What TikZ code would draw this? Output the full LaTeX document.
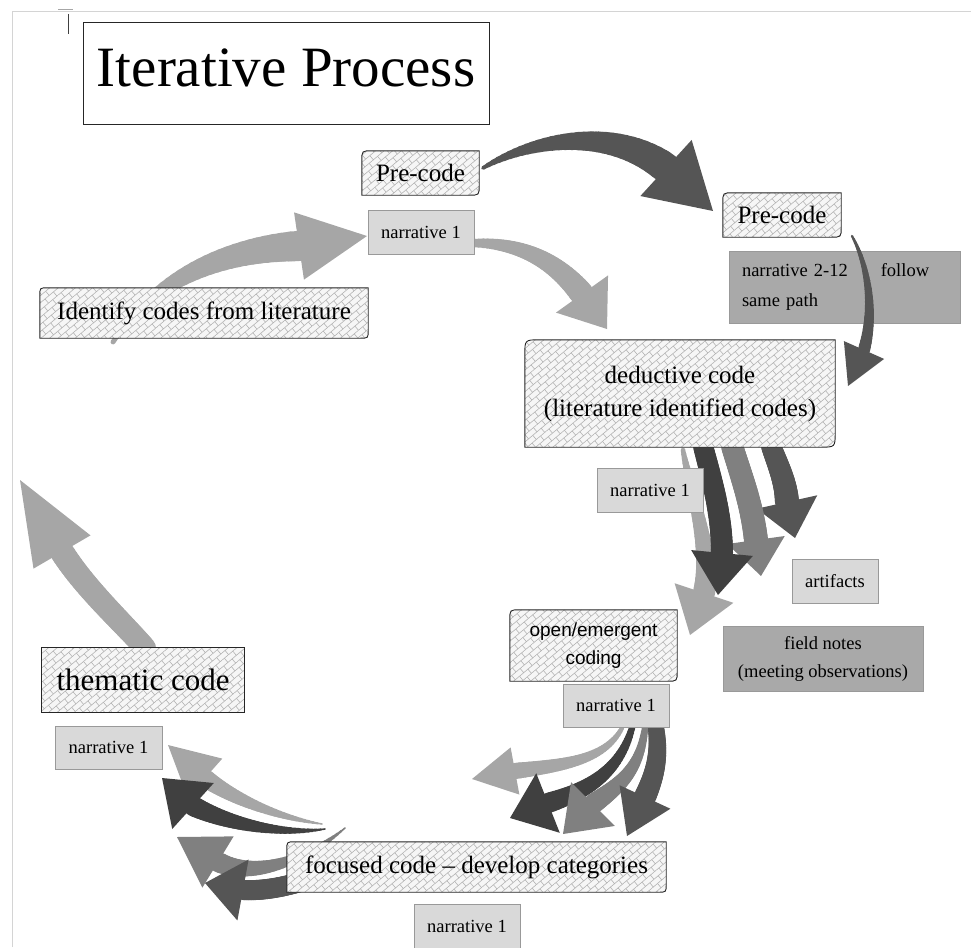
\documentclass[tikz,border=0pt]{standalone}
\usepackage{fontspec}
\setmainfont{Liberation Serif}
\newfontfamily\labelsans{Liberation Sans}
\usetikzlibrary{calc,patterns.meta}

% diagonal brick fill used inside the coding-stage boxes
\tikzdeclarepattern{
  name=diagbrick,
  type=uncolored,
  bounding box={(-0.5pt,-0.5pt) and (11.5pt,11.5pt)},
  tile size={(11pt,11pt)},
  tile transformation={rotate=40},
  code={
    \draw[line width=0.6pt]
      (0pt,0pt) -- (11pt,0pt)
      (0pt,5.5pt) -- (11pt,5.5pt)
      (0pt,0pt) -- (0pt,5.5pt)
      (5.5pt,5.5pt) -- (5.5pt,11pt);
  }
}

\definecolor{arrdark}{HTML}{555555}
\definecolor{arrdeep}{HTML}{404040}
\definecolor{arrmid}{HTML}{808080}
\definecolor{arrlight}{HTML}{A6A6A6}
\definecolor{notefill}{HTML}{D9D9D9}
\definecolor{notedark}{HTML}{A9A9A9}
\definecolor{noteedge}{HTML}{999999}
\definecolor{pageedge}{HTML}{D4D4D4}
\definecolor{brickline}{HTML}{B4B4B4}
\definecolor{brickbase}{HTML}{F6F6F6}

\pgfdeclarelayer{arrowlayer}
\pgfdeclarelayer{boxlayer}
\pgfsetlayers{arrowlayer,boxlayer,main}

\tikzset{
  hatchfill/.style={preaction={fill=brickbase}, pattern=diagbrick,
    pattern color=brickline, draw=black!85, line width=0.9pt},
  note/.style={draw=noteedge, fill=notefill, line width=1pt, inner sep=0pt,
    font=\fontsize{18.5}{28}\selectfont},
  stage/.style={inner sep=0pt, font=\fontsize{25}{33}\selectfont},
}

% box with rounded top-left and bottom-right corners behind node #2
\newcommand\hatchbox[2][9pt]{%
  \begin{pgfonlayer}{boxlayer}
    \path[hatchfill] let \p1=(#2.south west), \p2=(#2.north east) in
      (\x1,\y1) -- (\x1,{\y2-#1}) .. controls (\x1,\y2) .. ({\x1+#1},\y2)
      -- (\x2,\y2) -- (\x2,{\y1+#1}) .. controls (\x2,\y1) .. ({\x2-#1},\y1)
      -- cycle;
  \end{pgfonlayer}}

% curved block arrow: colour, tail, control 1, control 2, head base, tip,
% tail width, base width, half head width
\newcommand\taparrow[9]{%
  \foreach \k in {1,...,30}{%
    \pgfmathsetmacro\bzs{(\k-1)/30}%
    \pgfmathsetmacro\bzt{\k/30}%
    \pgfmathsetmacro\bzw{#7+(#8-#7)*\bzt}%
    \pgfmathsetmacro\bzpa{(1-\bzs)*(1-\bzs)*(1-\bzs)}%
    \pgfmathsetmacro\bzpb{3*(1-\bzs)*(1-\bzs)*\bzs}%
    \pgfmathsetmacro\bzpc{3*(1-\bzs)*\bzs*\bzs}%
    \pgfmathsetmacro\bzpd{\bzs*\bzs*\bzs}%
    \pgfmathsetmacro\bzqa{(1-\bzt)*(1-\bzt)*(1-\bzt)}%
    \pgfmathsetmacro\bzqb{3*(1-\bzt)*(1-\bzt)*\bzt}%
    \pgfmathsetmacro\bzqc{3*(1-\bzt)*\bzt*\bzt}%
    \pgfmathsetmacro\bzqd{\bzt*\bzt*\bzt}%
    \draw[#1,line width=\bzw pt,line cap=round]
      ($\bzpa*(#2)+\bzpb*(#3)+\bzpc*(#4)+\bzpd*(#5)$) --
      ($\bzqa*(#2)+\bzqb*(#3)+\bzqc*(#4)+\bzqd*(#5)$);
  }%
  \fill[#1] (#6) -- ($(#5)!#9pt!90:(#6)$) -- ($(#5)!#9pt!-90:(#6)$) -- cycle;
}

\begin{document}
\begin{tikzpicture}[x=1pt,y=-1pt]
\useasboundingbox (0,0) rectangle (971,947);

% page edge and cursor
\draw[pageedge,line width=1pt] (12,947) -- (12,12) -- (971,12);
\draw[black!35,line width=1pt] (58,10) -- (73,10);
\draw[black!75,line width=1pt] (68,14) -- (68,34);

% title
\node[draw=black!85,line width=1pt,minimum width=406pt,minimum height=102pt,inner sep=0pt] (titleframe) at (286,74) {};
\node[anchor=base,inner sep=0pt,font=\fontsize{57}{60}\selectfont] (title) at (286,87) {Iterative Process};

% coding stages
\node[stage,minimum width=117pt,minimum height=44pt] (pre1) at (420.5,173) {Pre-code};
\node[stage,minimum width=328pt,minimum height=50pt] (ident) at (204,313) {Identify codes from literature};
\node[stage,minimum width=118pt,minimum height=44pt] (pre2) at (782,215) {Pre-code};
\node[stage,minimum width=310pt,minimum height=107pt,align=center] (deduct) at (680,393.5) {deductive code\\(literature identified codes)};
\node[stage,minimum width=167pt,minimum height=71pt,align=center,font=\labelsans\fontsize{19}{28}\selectfont] (open) at (593.5,645.5) {open/emergent\\coding};
\node[stage,minimum width=202pt,minimum height=64pt,font=\fontsize{31}{34}\selectfont] (thematic) at (143,680) {thematic code};
\node[stage,minimum width=379pt,minimum height=50pt] (focused) at (476.5,867) {focused code \textendash{} develop categories};

\hatchbox[10pt]{pre1}
\hatchbox[8pt]{ident}
\hatchbox[10pt]{pre2}
\hatchbox[15pt]{deduct}
\hatchbox[10pt]{open}
\hatchbox[8pt]{focused}
\begin{pgfonlayer}{boxlayer}
  \path[hatchfill] (thematic.south west) rectangle (thematic.north east);
\end{pgfonlayer}

% narrative notes
\node[note,minimum width=106pt,minimum height=44pt] (nar1) at (421,232) {narrative 1};
\node[note,fill=notedark,minimum height=72pt,align=left,text width=205pt,inner xsep=13pt,font=\fontsize{18.5}{30}\selectfont] (nar212) at (844.5,287) {narrative 2-12\hspace{33pt}follow\\same path};
\node[note,minimum width=106pt,minimum height=44pt] (nar2) at (650,490) {narrative 1};
\node[note,minimum width=86pt,minimum height=44pt] (artif) at (835,581) {artifacts};
\node[note,fill=notedark,minimum width=200pt,minimum height=65pt,align=center] (field) at (823,658.5) {field notes\\(meeting observations)};
\node[note,minimum width=106pt,minimum height=43pt] (nar3) at (616,705.5) {narrative 1};
\node[note,minimum width=107pt,minimum height=43pt] (nar4) at (108.5,747.5) {narrative 1};
\node[note,minimum width=106pt,minimum height=44pt] (nar5) at (467,926) {narrative 1};

% flow arrows
\begin{pgfonlayer}{arrowlayer}
  % literature -> pre-code
  \taparrow{arrlight}{113,342}{150,285}{215,250}{299,246}{367,236}{4}{30}{34}
  % pre-code -> pre-code
  \taparrow{arrdark}{483,168}{530,140}{610,125}{666,168}{713,211}{3}{30}{38}
  % narrative -> deductive
  \taparrow{arrlight}{474,243}{520,243}{555,260}{582,294}{607,329}{8}{24}{32}
  % thematic -> literature
  \taparrow{arrlight}{145,648}{120,620}{85,588}{62,552}{20,480}{22}{24}{33}
  % deductive -> open coding
  \taparrow{arrdark}{771,446}{778,465}{786,482}{787,502}{795,538}{20}{24}{31}
  \taparrow{arrmid}{732,446}{742,478}{752,505}{756,540}{761,576}{22}{24}{29}
  \taparrow{arrlight}{683,450}{690,490}{712,550}{704,593}{690,635}{4}{22}{31}
  \taparrow{arrdeep}{703,446}{712,480}{722,515}{722,553}{718,595}{20}{22}{31}
  % open coding -> focused
  \taparrow{arrlight}{622,728}{605,760}{565,765}{515,771}{472,779}{4}{16}{24}
  \taparrow{arrdeep}{632,728}{620,770}{590,790}{548,803}{510,818}{6}{20}{32}
  \taparrow{arrmid}{645,728}{640,770}{620,785}{593,804}{563,834}{6}{20}{31}
  \taparrow{arrdark}{656,728}{660,755}{655,775}{645,797}{627,836}{16}{22}{28}
  % focused -> thematic
  \taparrow{arrlight}{322,824}{280,818}{235,800}{205,778}{168,745}{1}{18}{26}
  \taparrow{arrdeep}{325,829}{285,835}{230,825}{193,806}{162,778}{1}{20}{31}
  \taparrow{arrmid}{345,828}{310,858}{255,880}{218,862}{177,837}{1}{20}{30}
  \taparrow{arrdark}{300,882}{280,888}{260,891}{243,890}{205,883}{20}{20}{31}
\end{pgfonlayer}

% pre-code -> deductive, over the note
\taparrow{arrdark}{852,236}{868,265}{875,310}{864,350}{848,386}{2}{12}{22}

\end{tikzpicture}
\end{document}
